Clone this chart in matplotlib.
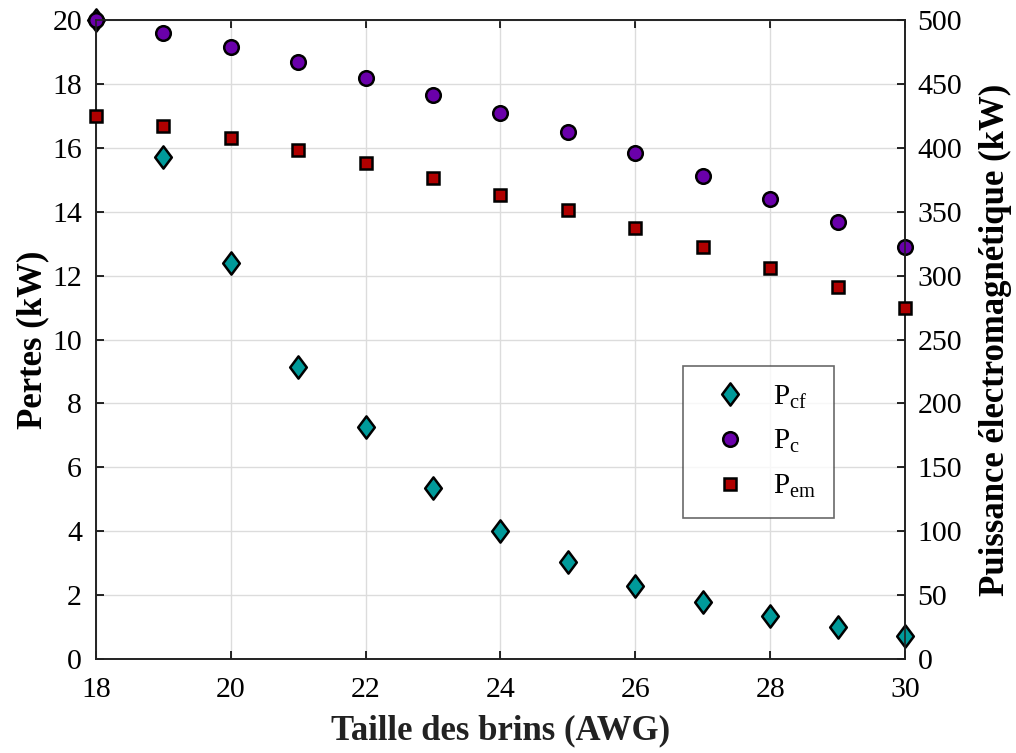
import matplotlib
matplotlib.use("Agg")
import matplotlib.pyplot as plt
import numpy as np
from matplotlib.path import Path

plt.rcParams["font.family"] = ["Liberation Serif", "DejaVu Serif"]
plt.rcParams["mathtext.fontset"] = "custom"
plt.rcParams["mathtext.rm"] = "Liberation Serif"

# ---- données ----
awg = [18, 19, 20, 21, 22, 23, 24, 25, 26, 27, 28, 29, 30]
p_cf = [20.0, 15.71, 12.39, 9.14, 7.26, 5.35, 4.01, 3.04, 2.28, 1.78, 1.35, 1.0, 0.72]
p_c = [20.0, 19.59, 19.15, 18.69, 18.18, 17.65, 17.09, 16.49, 15.84, 15.12, 14.40, 13.68, 12.90]
p_em = [425, 417, 408, 398, 388, 376, 363, 351, 337, 322, 306, 291, 275]

TEAL = "#009a9a"
PURPLE = "#6a00aa"
RED = "#b00000"

# losange un peu allongé (type MATLAB 'd')
DIAMOND = Path([(0, 1), (0.75, 0), (0, -1), (-0.75, 0), (0, 1)],
               [Path.MOVETO, Path.LINETO, Path.LINETO, Path.LINETO, Path.CLOSEPOLY])

fig = plt.figure(figsize=(10.16, 7.53), dpi=100)
ax = fig.add_axes([96 / 1016, 1 - 659 / 753, (905 - 96) / 1016, (659 - 20) / 753])
ax2 = ax.twinx()

h1, = ax.plot(awg, p_cf, ls="none", marker=DIAMOND, ms=16, mfc=TEAL, mec="black",
              mew=1.8, clip_on=False, zorder=3, label=r"$\mathregular{P_{cf}}$")
h2, = ax.plot(awg, p_c, ls="none", marker="o", ms=10.5, mfc=PURPLE, mec="black",
              mew=1.8, clip_on=False, zorder=4, label=r"$\mathregular{P_{c}}$")
h3, = ax2.plot(awg, p_em, ls="none", marker="s", ms=9, mfc=RED, mec="black",
               mew=1.8, clip_on=False, zorder=4, label=r"$\mathregular{P_{em}}$")

ax.set_xlim(18, 30)
ax.set_ylim(0, 20)
ax2.set_ylim(0, 500)
ax.set_xticks(np.arange(18, 31, 2))
ax.set_yticks(np.arange(0, 21, 2))
ax2.set_yticks(np.arange(0, 501, 50))

ax.grid(True, color="#dcdcdc", lw=1.0)
ax.set_axisbelow(True)
ax.tick_params(direction="in", length=6, width=1.2, labelsize=21.5, top=True)
ax.tick_params(axis="y", pad=10)
ax.tick_params(axis="x", pad=13)
ax2.tick_params(direction="in", length=6, width=1.2, labelsize=21.5, pad=9)
for a in (ax, ax2):
    for s in a.spines.values():
        s.set_linewidth(1.2)
        s.set_color("#222222")

ax.set_xlabel("Taille des brins (AWG)", fontsize=25, fontweight="bold",
              color="#222222", labelpad=8)
ax.set_ylabel("Pertes (kW)", fontsize=25, fontweight="bold", labelpad=2)
ax2.set_ylabel("Puissance électromagnétique (kW)", fontsize=25,
               fontweight="bold", labelpad=12)

leg = ax2.legend(handles=[h1, h2, h3], loc="upper left",
                 bbox_to_anchor=((683 - 96) / 809, 1 - (366 - 20) / 639),
                 fontsize=21, frameon=True, fancybox=False, edgecolor="#444444",
                 borderpad=0.6, labelspacing=0.6, handlelength=2.0,
                 handletextpad=0.5, borderaxespad=0)
leg.get_frame().set_linewidth(1.2)

fig.savefig("out.png", dpi=100)
